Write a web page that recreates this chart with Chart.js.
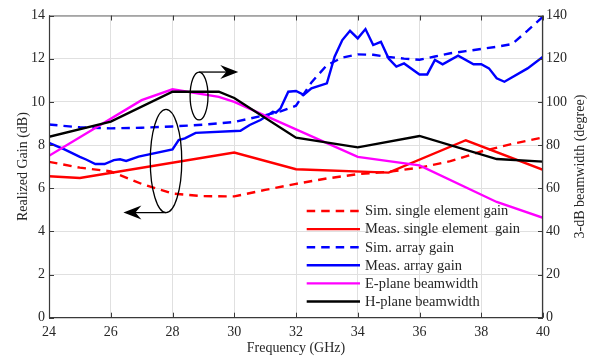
<!DOCTYPE html>
<html>
<head>
<meta charset="utf-8">
<script src="https://cdn.jsdelivr.net/npm/chart.js@4/dist/chart.umd.min.js"></script>
<style>
  html, body { margin: 0; padding: 0; background: #fff; }
</style>
</head>
<body>
<canvas id="chart" width="592" height="356"></canvas>
<script>
// Frequency sweep (GHz) and gain / beamwidth readings
const simSingleFreq = [24, 25, 26, 27, 28, 29, 30, 31, 32, 33, 34, 35, 36, 37, 38, 39, 40];
const simSingleGain = [7.22, 6.95, 6.78, 6.2, 5.75, 5.63, 5.62, 5.92, 6.2, 6.45, 6.65, 6.76, 6.95, 7.25, 7.7, 8.05, 8.35];

const measSingleFreq = [24, 25, 30, 32, 35, 37.5, 40];
const measSingleGain = [6.55, 6.47, 7.65, 6.88, 6.72, 8.22, 6.85];

const simArrayFreq = [24, 25, 26, 27, 28, 29, 30, 31, 31.5, 32, 32.5, 33, 33.5, 34, 34.5, 35, 35.5, 36, 36.5, 37, 37.5, 38, 38.5, 39, 39.5, 40];
const simArrayGain = [8.95, 8.82, 8.77, 8.8, 8.86, 8.94, 9.07, 9.38, 9.56, 9.82, 10.9, 11.7, 12.05, 12.2, 12.18, 12.08, 12.0, 11.95, 12.1, 12.25, 12.35, 12.45, 12.55, 12.68, 13.3, 13.95];

const measArrayFreq = [24, 24.5, 25, 25.2, 25.5, 25.8, 26.1, 26.3, 26.5, 26.9, 28.0, 28.2, 28.4, 28.75, 30.2, 30.5, 30.85, 31.1, 31.25, 31.35, 31.5, 31.75, 32.0, 32.25, 32.5, 33.0, 33.25, 33.5, 33.75, 34.0, 34.25, 34.5, 34.75, 35.0, 35.25, 35.5, 36.0, 36.25, 36.5, 36.75, 37.25, 37.75, 38.0, 38.25, 38.5, 38.75, 39.5, 40];
const measArrayGain = [8.1, 7.8, 7.45, 7.33, 7.12, 7.12, 7.3, 7.34, 7.26, 7.46, 7.8, 8.23, 8.31, 8.56, 8.66, 8.93, 9.16, 9.39, 9.54, 9.5, 9.7, 10.47, 10.5, 10.32, 10.63, 10.86, 12.09, 12.86, 13.29, 12.94, 13.37, 12.63, 12.78, 12.01, 11.63, 11.78, 11.27, 11.27, 11.94, 11.74, 12.14, 11.74, 11.74, 11.55, 11.09, 10.93, 11.55, 12.09];

const ePlaneFreq = [24, 27, 28, 29.5, 30, 34, 36, 38.5, 40];
const ePlaneBeam = [75, 100.8, 105.8, 102.3, 100, 74.5, 70.6, 53.6, 46.3];

const hPlaneFreq = [24, 26, 28, 29.5, 30, 32, 34, 36, 38.5, 40];
const hPlaneBeam = [83.8, 90.8, 104.7, 104.7, 101.8, 83.4, 78.9, 84.2, 73.5, 72.3];

const seriesLabels = [
  'Sim. single element gain',
  'Meas. single element  gain',
  'Sim. array gain',
  'Meas. array gain',
  'E-plane beamwidth',
  'H-plane beamwidth'
];

const FONT = '"Liberation Serif", "Times New Roman", serif';
const TEXT = '#262626';
const AXIS = '#3a3a3a';
const GRID = '#e0e0e0';
const DASH = [8.5, 6];

const pts = (xs, ys) => xs.map((f, i) => ({ x: f, y: ys[i] }));

function series(label, xs, ys, color, dashed, axis, order) {
  return {
    label,
    data: pts(xs, ys),
    borderColor: color,
    backgroundColor: color,
    borderWidth: 2.4,
    borderDash: dashed ? DASH : [],
    pointRadius: 0,
    tension: 0,
    fill: false,
    yAxisID: axis,
    order
  };
}

// Ellipse + arrow call-outs, placed in data coordinates of their own axis
function drawArrow(ctx, x0, y0, x1, y1) {
  const dir = Math.sign(x1 - x0);
  ctx.beginPath();
  ctx.moveTo(x0, y0);
  ctx.lineTo(x1 - dir * 10, y1);
  ctx.stroke();
  ctx.beginPath();
  ctx.moveTo(x1, y1);
  ctx.lineTo(x1 - dir * 18, y1 - 7);
  ctx.lineTo(x1 - dir * 12, y1);
  ctx.lineTo(x1 - dir * 18, y1 + 7);
  ctx.closePath();
  ctx.fill();
}

const decorations = {
  id: 'decorations',
  afterDatasetsDraw(chart) {
    const { ctx, chartArea: a, scales: { x, y, y1 } } = chart;
    ctx.save();
    ctx.strokeStyle = '#000';
    ctx.fillStyle = '#000';
    ctx.lineWidth = 1.3;

    // beamwidth group -> right axis
    let cx = x.getPixelForValue(28.86), cy = y1.getPixelForValue(102.7);
    let rx = x.getPixelForValue(28.86 + 0.29) - cx;
    let ry = cy - y1.getPixelForValue(102.7 + 11.1);
    ctx.beginPath();
    ctx.ellipse(cx, cy, rx, ry, 0, 0, Math.PI * 2);
    ctx.stroke();
    drawArrow(ctx, cx, cy - ry, x.getPixelForValue(30.13), cy - ry);

    // gain group -> left axis
    cx = x.getPixelForValue(27.79); cy = y.getPixelForValue(7.26);
    rx = x.getPixelForValue(27.79 + 0.51) - cx;
    ry = cy - y.getPixelForValue(7.26 + 2.39);
    ctx.beginPath();
    ctx.ellipse(cx, cy, rx, ry, 0, 0, Math.PI * 2);
    ctx.stroke();
    drawArrow(ctx, cx, cy + ry, x.getPixelForValue(26.41), cy + ry);

    // legend inside the plot, lower right
    const rowH = 18.1;
    const lx0 = a.left + 257.7, lx1 = a.left + 311, tx = a.left + 316;
    let ly = a.top + 195.5;
    ctx.font = '14.5px ' + FONT;
    ctx.textBaseline = 'middle';
    ctx.textAlign = 'left';
    chart.data.datasets.forEach(ds => {
      ctx.strokeStyle = ds.borderColor;
      ctx.lineWidth = ds.borderWidth;
      ctx.setLineDash(ds.borderDash);
      ctx.beginPath();
      ctx.moveTo(lx0, ly);
      ctx.lineTo(lx1, ly);
      ctx.stroke();
      ctx.setLineDash([]);
      ctx.fillStyle = TEXT;
      ctx.fillText(ds.label, tx, ly + 0.5);
      ly += rowH;
    });
    ctx.restore();
  },
  afterDraw(chart) {
    const { ctx, chartArea: a, scales: { x, y } } = chart;
    ctx.save();
    // frame
    ctx.lineWidth = 1.2;
    ctx.strokeStyle = '#6a6a6a';
    ctx.beginPath();
    ctx.moveTo(a.left, a.top + 0.5);
    ctx.lineTo(a.right, a.top + 0.5);
    ctx.stroke();
    ctx.strokeStyle = AXIS;
    ctx.beginPath();
    ctx.moveTo(a.left + 0.5, a.top);
    ctx.lineTo(a.left + 0.5, a.bottom);
    ctx.lineTo(a.right, a.bottom);
    ctx.moveTo(a.right - 0.5, a.top);
    ctx.lineTo(a.right - 0.5, a.bottom);
    ctx.stroke();

    // inward tick marks
    ctx.lineWidth = 1;
    const t = 5;
    ctx.beginPath();
    x.ticks.forEach(tk => {
      const px = Math.round(x.getPixelForValue(tk.value)) + 0.5;
      ctx.moveTo(px, a.bottom); ctx.lineTo(px, a.bottom - t);
      ctx.moveTo(px, a.top); ctx.lineTo(px, a.top + t);
    });
    y.ticks.forEach(tk => {
      const py = Math.round(y.getPixelForValue(tk.value)) + 0.5;
      ctx.moveTo(a.left, py); ctx.lineTo(a.left + t, py);
      ctx.moveTo(a.right, py); ctx.lineTo(a.right - t, py);
    });
    ctx.stroke();

    // right axis title, reading bottom-to-top
    ctx.fillStyle = TEXT;
    ctx.font = '14px ' + FONT;
    ctx.textAlign = 'center';
    ctx.textBaseline = 'middle';
    ctx.translate(a.right + 37, (a.top + a.bottom) / 2);
    ctx.rotate(-Math.PI / 2);
    ctx.fillText('3-dB beamwidth (degree)', 0, 0);
    ctx.restore();
  }
};

new Chart(document.getElementById('chart'), {
  type: 'line',
  data: {
    datasets: [
      series(seriesLabels[0], simSingleFreq, simSingleGain, '#ff0000', true, 'y', 5),
      series(seriesLabels[1], measSingleFreq, measSingleGain, '#ff0000', false, 'y', 4),
      series(seriesLabels[2], simArrayFreq, simArrayGain, '#0000ff', true, 'y', 3),
      series(seriesLabels[3], measArrayFreq, measArrayGain, '#0000ff', false, 'y', 2),
      series(seriesLabels[4], ePlaneFreq, ePlaneBeam, '#ff00ff', false, 'y1', 1),
      series(seriesLabels[5], hPlaneFreq, hPlaneBeam, '#000000', false, 'y1', 0)
    ]
  },
  options: {
    responsive: false,
    animation: false,
    devicePixelRatio: 1,
    layout: { padding: { top: 15.5, left: 0, right: 0, bottom: 0 } },
    plugins: { legend: { display: false }, tooltip: { enabled: false } },
    scales: {
      x: {
        type: 'linear',
        min: 24, max: 40,
        afterFit: s => { s.height = 38.3; },
        ticks: { stepSize: 2, padding: 6, color: TEXT, font: { family: FONT, size: 14 }, maxRotation: 0 },
        grid: { color: GRID, lineWidth: 1, drawTicks: false },
        border: { display: false },
        title: { display: true, text: 'Frequency (GHz)', color: TEXT, font: { family: FONT, size: 14 }, padding: { top: 0, bottom: -1 } }
      },
      y: {
        position: 'left',
        min: 0, max: 14,
        afterFit: s => { s.width = 49; },
        ticks: { stepSize: 2, padding: 4, color: TEXT, font: { family: FONT, size: 14 } },
        grid: { color: GRID, lineWidth: 1, drawTicks: false },
        border: { display: false },
        title: { display: true, text: 'Realized Gain (dB)', color: TEXT, font: { family: FONT, size: 14 }, padding: { top: 14.5, bottom: 0 } }
      },
      y1: {
        position: 'right',
        min: 0, max: 140,
        afterFit: s => { s.width = 49; },
        ticks: { stepSize: 20, padding: 3, color: TEXT, font: { family: FONT, size: 14 } },
        grid: { display: false, drawTicks: false },
        border: { display: false }
      }
    }
  },
  plugins: [decorations]
});
</script>
</body>
</html>
